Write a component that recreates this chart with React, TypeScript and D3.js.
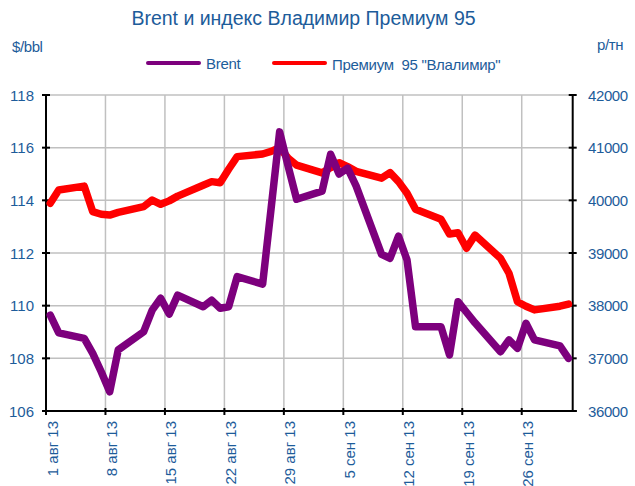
import React from "react";
import * as d3 from "d3";

// ---- data (trading days, Aug 1 – Oct 1 2013) ----
const dates: string[] = [
  "2013-08-01", "2013-08-02", "2013-08-05", "2013-08-06", "2013-08-07", "2013-08-08", "2013-08-09",
  "2013-08-12", "2013-08-13", "2013-08-14", "2013-08-15", "2013-08-16",
  "2013-08-19", "2013-08-20", "2013-08-21", "2013-08-22", "2013-08-23",
  "2013-08-26", "2013-08-27", "2013-08-28", "2013-08-29", "2013-08-30",
  "2013-09-02", "2013-09-03", "2013-09-04", "2013-09-05", "2013-09-06",
  "2013-09-09", "2013-09-10", "2013-09-11", "2013-09-12", "2013-09-13",
  "2013-09-16", "2013-09-17", "2013-09-18", "2013-09-19", "2013-09-20",
  "2013-09-23", "2013-09-24", "2013-09-25", "2013-09-26", "2013-09-27",
  "2013-09-30", "2013-10-01",
];

const brent: number[] = [
  109.64, 108.97, 108.76, 108.19, 107.49, 106.73, 108.32,
  109.01, 109.83, 110.28, 109.68, 110.4,
  109.96, 110.21, 109.9, 109.96, 111.1,
  110.82, 113.7, 116.6, 115.3, 114.04,
  114.35, 115.75, 115.0, 115.22, 114.55,
  111.95, 111.8, 112.64, 111.73, 109.2,
  109.2, 108.13, 110.15, 109.75, 109.35,
  108.25, 108.7, 108.38, 109.33, 108.7,
  108.47, 108.0,
];

const premium95: number[] = [
  39945, 40195, 40270, 39785, 39735, 39720, 39770,
  39880, 40005, 39925, 39990, 40080,
  40285, 40355, 40335, 40590, 40830,
  40880, 40930, 41000, 40800, 40670,
  40520, 40620, 40715, 40640, 40550,
  40420, 40525, 40355, 40135, 39830,
  39640, 39360, 39385, 39090, 39340,
  38900, 38615, 38075, 37990, 37920,
  37990, 38030,
];

const xTickDates: string[] = [
  "2013-08-01", "2013-08-08", "2013-08-15", "2013-08-22", "2013-08-29",
  "2013-09-05", "2013-09-12", "2013-09-19", "2013-09-26",
];
const xTickLabels: string[] = [
  "1 авг 13", "8 авг 13", "15 авг 13", "22 авг 13", "29 авг 13",
  "5 сен 13", "12 сен 13", "19 сен 13", "26 сен 13",
];
const leftTicks: number[] = [106, 108, 110, 112, 114, 116, 118];
const rightTicks: number[] = [36000, 37000, 38000, 39000, 40000, 41000, 42000];

const title = "Brent и индекс Владимир Премиум 95";
const leftUnit = "$/bbl";
const rightUnit = "р/тн";
const seriesNames = ["Brent", "Премиум  95 \"Влалимир\""];

// ---- layout ----
const W = 635;
const H = 486;
const X0 = 46;
const X1 = 572.7;
const Y0 = 95;
const Y1 = 411;
const BLUE = "#1D5C9A";
const PURPLE = "#7D007D";
const RED = "#FF0000";
const FONT = "'Liberation Sans', Arial, sans-serif";

const parse = (s: string) => new Date(s + "T00:00:00Z");
const HALF_DAY = 12 * 3600 * 1000;

export default function App() {
  const x = d3.scaleUtc().domain([parse("2013-08-01"), parse("2013-10-02")]).range([X0, X1]);
  const yL = d3.scaleLinear().domain([106, 118]).range([Y1, Y0]);
  const yR = d3.scaleLinear().domain([36000, 42000]).range([Y1, Y0]);
  const px = (i: number) => x(new Date(parse(dates[i]).getTime() + HALF_DAY));

  const lineBrent = d3.line<number>().x((_, i) => px(i)).y((d) => yL(d));
  const linePrem = d3.line<number>().x((_, i) => px(i)).y((d) => yR(d));

  return (
    <svg width={W} height={H} style={{ position: "absolute", left: 0, top: 0, background: "#fff" }} fontFamily={FONT}>
      <rect x={0} y={0} width={W} height={H} fill="#fff" />
      <text x={303.5} y={25} textAnchor="middle" fontSize={19.5} fill={BLUE}>{title}</text>
      <text x={12} y={52} fontSize={15} fill={BLUE} letterSpacing={-0.4}>{leftUnit}</text>
      <text x={597} y={50} fontSize={15} fill={BLUE} letterSpacing={-0.4}>{rightUnit}</text>

      {/* legend */}
      <line x1={148} x2={199} y1={63} y2={63} stroke={PURPLE} strokeWidth={4} strokeLinecap="round" />
      <text x={206} y={68.5} fontSize={15} fill={BLUE} letterSpacing={-0.3}>{seriesNames[0]}</text>
      <line x1={274} x2={325} y1={63} y2={63} stroke={RED} strokeWidth={4} strokeLinecap="round" />
      <text x={332} y={69.5} fontSize={15} fill={BLUE} letterSpacing={-0.3} style={{ whiteSpace: "pre" }}>{seriesNames[1]}</text>

      {/* grid */}
      {leftTicks.map((t) => (
        <line key={"gh" + t} x1={X0} x2={X1} y1={yL(t)} y2={yL(t)} stroke="#C0C0C0" strokeWidth={1.5} />
      ))}
      {xTickDates.map((d) => (
        <line key={"gv" + d} x1={x(parse(d))} x2={x(parse(d))} y1={Y0} y2={Y1} stroke="#C0C0C0" strokeWidth={1.5} />
      ))}

      {/* axes */}
      <line x1={X0} x2={X0} y1={Y0} y2={Y1} stroke="#000" strokeWidth={2} />
      <line x1={X1} x2={X1} y1={Y0} y2={Y1} stroke="#000" strokeWidth={2} />
      <line x1={X0 - 4} x2={X1 + 4} y1={Y1} y2={Y1} stroke="#000" strokeWidth={2} />
      {leftTicks.map((t) => (
        <g key={"lt" + t}>
          <line x1={X0 - 4} x2={X0 + 4} y1={yL(t)} y2={yL(t)} stroke="#000" strokeWidth={2} />
          <text x={34} y={yL(t) + 5.5} textAnchor="end" fontSize={15} fill={BLUE}>{t}</text>
        </g>
      ))}
      {rightTicks.map((t) => (
        <g key={"rt" + t}>
          <line x1={X1 - 4} x2={X1 + 4} y1={yR(t)} y2={yR(t)} stroke="#000" strokeWidth={2} />
          <text x={588} y={yR(t) + 5.5} textAnchor="start" fontSize={15} fill={BLUE} letterSpacing={-0.4}>{t}</text>
        </g>
      ))}
      {xTickDates.map((d, i) => {
        const tx = x(parse(d));
        return (
          <g key={"xt" + d}>
            <line x1={tx} x2={tx} y1={Y1 - 3} y2={Y1 + 4} stroke="#000" strokeWidth={2} />
            <text
              transform={`translate(${tx + 11.5},${421}) rotate(-90)`}
              textAnchor="end"
              fontSize={15}
              fill={BLUE}
            >
              {xTickLabels[i]}
            </text>
          </g>
        );
      })}

      {/* series */}
      <path d={linePrem(premium95) || ""} fill="none" stroke={RED} strokeWidth={7.5} strokeLinejoin="round" strokeLinecap="round" />
      <path d={lineBrent(brent) || ""} fill="none" stroke={PURPLE} strokeWidth={7.5} strokeLinejoin="round" strokeLinecap="round" />
    </svg>
  );
}
